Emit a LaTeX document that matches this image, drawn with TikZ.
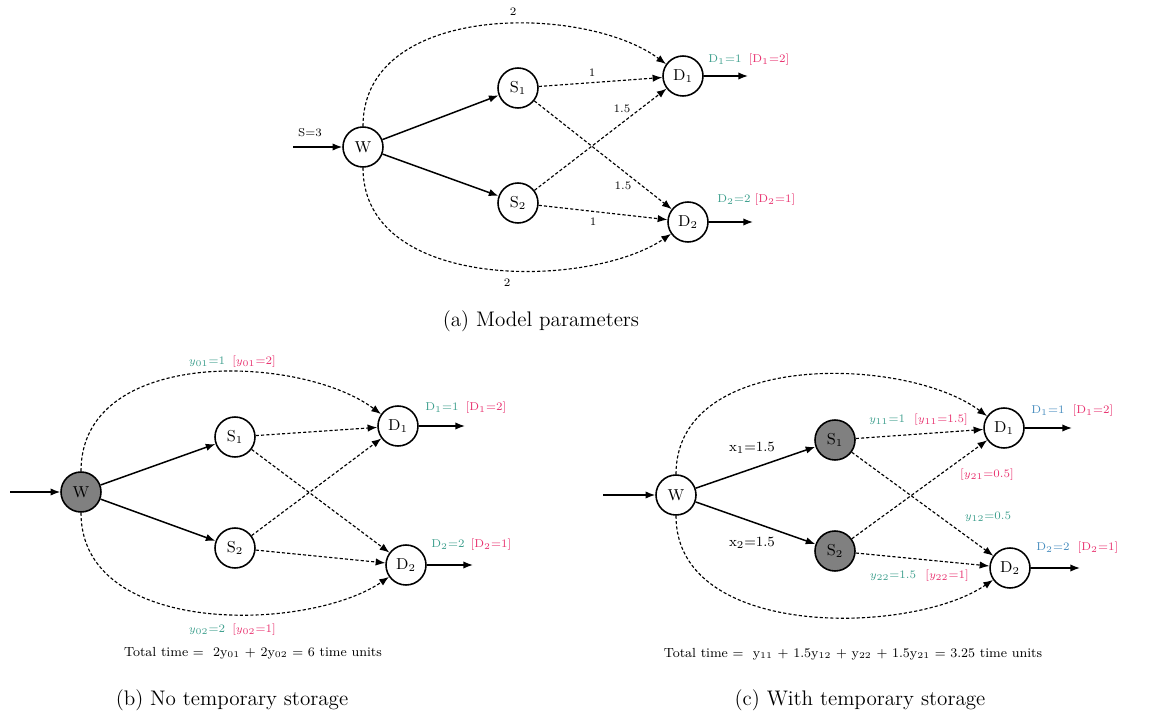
\documentclass[tikz,border=0pt]{standalone}
\usetikzlibrary{arrows.meta}
\definecolor{tealg}{RGB}{60,158,140}
\definecolor{pinkr}{RGB}{232,48,110}
\definecolor{blueg}{RGB}{70,140,190}
\definecolor{fillg}{RGB}{128,128,128}
\begin{document}
\begin{tikzpicture}[x=0.02cm,y=-0.02cm,
 nd/.style={circle,draw,line width=0.9pt,minimum size=0.8cm,inner sep=0pt,font=\fontsize{9}{10}\selectfont,fill=white},
 nf/.style={nd,fill=fillg},
 sol/.style={line width=0.85pt,-{Latex[length=5.5pt,width=4.2pt]}},
 dsh/.style={line width=0.65pt,dash pattern=on 1.8pt off 1.2pt,-{Latex[length=5.5pt,width=4.2pt]}},
 lbl/.style={font=\fontsize{6.5}{8}\selectfont,inner sep=1pt},
 xl/.style={font=\fontsize{8}{9}\selectfont,inner sep=1pt},
 captxt/.style={font=\fontsize{12}{14}\selectfont},
 tot/.style={font=\fontsize{7.5}{9}\selectfont},
]
\useasboundingbox (0,0) rectangle (1162,719);
% ---------------- (a) ----------------
\node[nd] (aW) at (363,147) {W};
\node[nd] (aS1) at (518,88) {S$_1$};
\node[nd] (aS2) at (518,203) {S$_2$};
\node[nd] (aD1) at (683,76) {D$_1$};
\node[nd] (aD2) at (688,222) {D$_2$};
\coordinate (aIn) at (293,147);
\coordinate (aO1) at (748,76);
\coordinate (aO2) at (753,222);
\draw[sol] (aIn) -- (aW);
\draw[sol] (aW) -- (aS1);
\draw[sol] (aW) -- (aS2);
\draw[sol] (aD1) -- (aO1);
\draw[sol] (aD2) -- (aO2);
\draw[dsh] (aS1) -- (aD1);
\draw[dsh] (aS1) -- (aD2);
\draw[dsh] (aS2) -- (aD1);
\draw[dsh] (aS2) -- (aD2);
\draw[dsh] (aW.north) .. controls +(0,-125) and +(-80,-60) .. (aD1.145);
\draw[dsh] (aW.south) .. controls +(0,125) and +(-80,55) .. (aD2.-145);
\node[lbl] (aSl) at (310,133) {S=3};
\node[lbl] (aL1) at (513,12) {2};
\node[lbl] (aL2) at (507,283) {2};
\node[lbl] (aL3) at (592,73) {1};
\node[lbl] (aL4) at (622,109) {1.5};
\node[lbl] (aL5) at (623,186) {1.5};
\node[lbl] (aL6) at (593,222) {1};
\node[lbl,text=tealg] (aDa) at (725,60) {D$_1$=1};
\node[lbl,text=pinkr] (aDb) at (769,60) {[D$_1$=2]};
\node[lbl,text=tealg] (aDc) at (734,200) {D$_2$=2};
\node[lbl,text=pinkr] (aDd) at (775,200) {[D$_2$=1]};
\node[captxt] (aCap) at (541,321) {(a) Model parameters};
% ---------------- (b) ----------------
\node[nf] (bW) at (81,492) {W};
\node[nd] (bS1) at (235,437) {S$_1$};
\node[nd] (bS2) at (235,548) {S$_2$};
\node[nd] (bD1) at (398,426) {D$_1$};
\node[nd] (bD2) at (406,565) {D$_2$};
\coordinate (bIn) at (10,492);
\coordinate (bO1) at (465,426);
\coordinate (bO2) at (473,565);
\draw[sol] (bIn) -- (bW);
\draw[sol] (bW) -- (bS1);
\draw[sol] (bW) -- (bS2);
\draw[sol] (bD1) -- (bO1);
\draw[sol] (bD2) -- (bO2);
\draw[dsh] (bS1) -- (bD1);
\draw[dsh] (bS1) -- (bD2);
\draw[dsh] (bS2) -- (bD1);
\draw[dsh] (bS2) -- (bD2);
\draw[dsh] (bW.north) .. controls +(0,-125) and +(-80,-60) .. (bD1.145);
\draw[dsh] (bW.south) .. controls +(0,125) and +(-80,55) .. (bD2.-145);
\node[lbl,text=tealg] (bY1) at (207,362) {$y_{01}$=1};
\node[lbl,text=pinkr] (bY2) at (254,362) {[$y_{01}$=2]};
\node[lbl,text=tealg] (bY3) at (207,630) {$y_{02}$=2};
\node[lbl,text=pinkr] (bY4) at (254,630) {[$y_{02}$=1]};
\node[lbl,text=tealg] (bDa) at (442,408) {D$_1$=1};
\node[lbl,text=pinkr] (bDb) at (486,408) {[D$_1$=2]};
\node[lbl,text=tealg] (bDc) at (448,545) {D$_2$=2};
\node[lbl,text=pinkr] (bDd) at (491,545) {[D$_2$=1]};
\node[tot] (bTot) at (253,653) {Total time\ = \ 2y$_{01}$ + 2y$_{02}$ = 6 time units};
\node[captxt] (bCap) at (232,700) {(b) No temporary storage};
% ---------------- (c) ----------------
\node[nd] (cW) at (676,495) {W};
\node[nf] (cS1) at (835,440) {S$_1$};
\node[nf] (cS2) at (835,551) {S$_2$};
\node[nd] (cD1) at (1004,428) {D$_1$};
\node[nd] (cD2) at (1010,568) {D$_2$};
\coordinate (cIn) at (603,495);
\coordinate (cO1) at (1072,428);
\coordinate (cO2) at (1080,568);
\draw[sol] (cIn) -- (cW);
\draw[sol] (cW) -- (cS1);
\draw[sol] (cW) -- (cS2);
\draw[sol] (cD1) -- (cO1);
\draw[sol] (cD2) -- (cO2);
\draw[dsh] (cS1) -- (cD1);
\draw[dsh] (cS1) -- (cD2);
\draw[dsh] (cS2) -- (cD1);
\draw[dsh] (cS2) -- (cD2);
\draw[dsh] (cW.north) .. controls +(0,-125) and +(-80,-60) .. (cD1.145);
\draw[dsh] (cW.south) .. controls +(0,125) and +(-80,55) .. (cD2.-145);
\node[xl] (cX1) at (752,448) {x$_1$=1.5};
\node[xl] (cX2) at (752,543) {x$_2$=1.5};
\node[lbl,text=tealg] (cY1) at (887,420) {$y_{11}$=1};
\node[lbl,text=pinkr] (cY2) at (941,420) {[$y_{11}$=1.5]};
\node[lbl,text=pinkr] (cY3) at (987,475) {[$y_{21}$=0.5]};
\node[lbl,text=tealg] (cY4) at (988,517) {$y_{12}$=0.5};
\node[lbl,text=tealg] (cY5) at (893,576) {$y_{22}$=1.5};
\node[lbl,text=pinkr] (cY6) at (947,576) {[$y_{22}$=1]};
\node[lbl,text=blueg] (cDa) at (1048,411) {D$_1$=1};
\node[lbl,text=pinkr] (cDb) at (1093,411) {[D$_1$=2]};
\node[lbl,text=blueg] (cDc) at (1053,548) {D$_2$=2};
\node[lbl,text=pinkr] (cDd) at (1098,548) {[D$_2$=1]};
\node[tot] (cTot) at (853,654) {Total time\ = \ y$_{11}$ + 1.5y$_{12}$ + y$_{22}$ + 1.5y$_{21}$ = 3.25 time units};
\node[captxt] (cCap) at (860,700) {(c) With temporary storage};
\end{tikzpicture}
\end{document}
